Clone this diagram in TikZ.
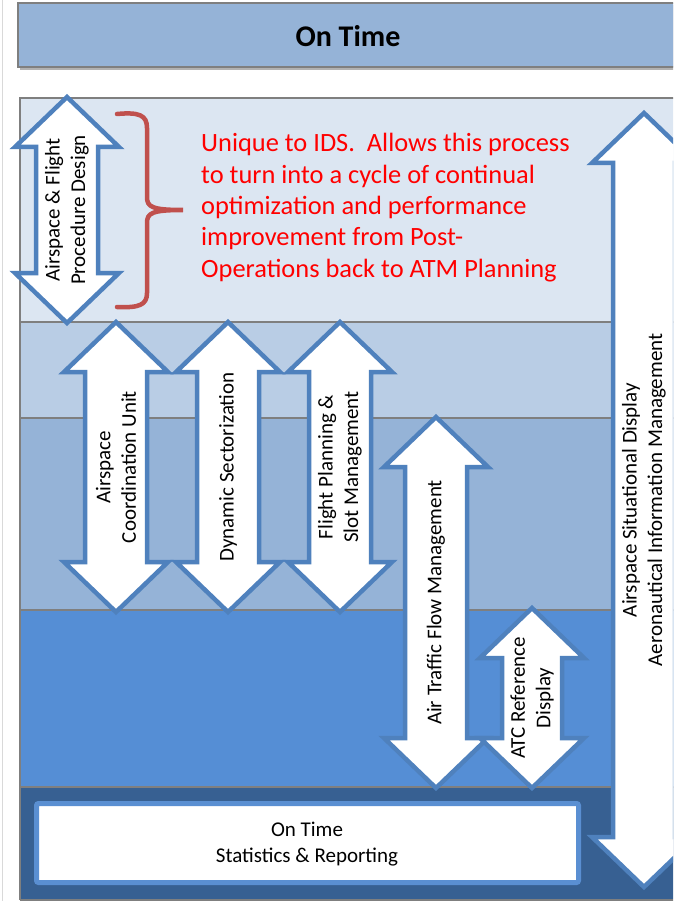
\documentclass[tikz,border=0pt]{standalone}
\usepackage{fontspec}
\setmainfont{Carlito}
\definecolor{hdrfill}{HTML}{95B3D7}
\definecolor{bandA}{HTML}{DCE6F2}
\definecolor{bandB}{HTML}{B9CDE5}
\definecolor{bandC}{HTML}{95B3D7}
\definecolor{bandD}{HTML}{558ED5}
\definecolor{bandE}{HTML}{376092}
\definecolor{edgegray}{HTML}{7F7F7F}
\definecolor{arrowblue}{HTML}{4F81BD}
\definecolor{boxblue}{HTML}{5A8FD2}
\definecolor{bracered}{HTML}{C0504D}
\definecolor{notered}{HTML}{FF0000}
\tikzset{
  bandsep/.style={draw=edgegray, line width=2pt},
  arrowshape/.style={draw=arrowblue, fill=white, line width=4.5pt, line join=miter},
  arrowtext/.style={rotate=90, align=center, inner sep=0pt, font=\fontsize{21}{25.5}\selectfont},
  notetext/.style={anchor=base west, inner sep=0pt, text=notered, font=\fontsize{26.4}{31}\selectfont},
}
\newcommand\dblarrow[6]{% name, cx, top, bottom, shaft half, text
  \draw[arrowshape] (#2,#3) -- ({#2+52},{#3+50}) -- ({#2+#5},{#3+50}) -- ({#2+#5},{#4-50})
    -- ({#2+52},{#4-50}) -- (#2,#4) -- ({#2-52},{#4-50}) -- ({#2-#5},{#4-50})
    -- ({#2-#5},{#3+50}) -- ({#2-52},{#3+50}) -- cycle;
  \node[arrowtext] (#1) at (#2,{(#3+#4)/2}) {#6};
}
\begin{document}
\begin{tikzpicture}[x=1pt,y=-1pt]
\useasboundingbox (0,0) rectangle (673,901);
\begin{scope}
\clip (0,0) rectangle (673,901);
\fill[white] (0,0) rectangle (673,901);
\draw[draw=black!15, line width=1pt] (2,0) -- (2,901);
% header
\fill[black, opacity=0.3] (20,5) rectangle (700,70);
\draw[draw=edgegray, fill=hdrfill, line width=1.5pt] (18,3) rectangle (700,67);
\node[font=\bfseries\fontsize{30}{36}\selectfont, inner sep=0pt] (title) at (348,36) {On Time};
% bands
\fill[bandA] (20,98) rectangle (700,322);
\fill[bandB] (20,322) rectangle (700,418);
\fill[bandC] (20,418) rectangle (700,610);
\fill[bandD] (20,610) rectangle (700,787);
\fill[bandE] (20,787) rectangle (700,899);
\draw[bandsep] (20,322) -- (700,322);
\draw[bandsep] (20,418) -- (700,418);
\draw[bandsep] (20,610) -- (700,610);
\draw[bandsep] (20,787) -- (700,787);
\draw[bandsep] (20,900) -- (20,98) -- (700,98);
\draw[bandsep] (20,900) -- (700,900);
% bottom box
\draw[draw=boxblue, fill=white, line width=5pt, rounded corners=2pt] (36.5,803.5) rectangle (578.5,882.5);
\node[align=center, inner sep=0pt, font=\fontsize{21}{26}\selectfont] (stats) at (307,844) {On Time\\Statistics \& Reporting};
% arrows
\dblarrow{apd}{67}{97}{323}{31}{Airspace \& Flight\\Procedure Design}
\dblarrow{acu}{116}{322}{612}{31}{Airspace\\Coordination Unit}
\dblarrow{dsec}{228}{322}{612}{31}{Dynamic Sectorization}
\dblarrow{fpsm}{340}{322}{612}{31}{Flight Planning \&\\Slot Management}
\dblarrow{atfm}{436}{417}{788}{31}{Air Traffic Flow Management}
\dblarrow{atcr}{532}{608}{788}{30}{ATC Reference\\Display}
\dblarrow{asd}{644}{113}{887}{31}{Airspace Situational Display\\Aeronautical Information Management}
% brace
\coordinate (braceTop) at (117,114);
\coordinate (braceTip) at (183,210);
\coordinate (braceBot) at (117,307);
\draw[draw=bracered, line width=4.5pt, line cap=round]
  (braceTop) .. controls (139,112) and (147,115) .. (147,128) -- (147,197)
  .. controls (147,207) and (152,210) .. (braceTip)
  .. controls (152,210) and (147,213) .. (147,223) -- (147,293)
  .. controls (147,305) and (139,308) .. (braceBot);
% note
\node[notetext] (n1) at (201,152) {Unique to IDS.\ \ Allows this process};
\node[notetext] (n2) at (201,183.25) {to turn into a cycle of continual};
\node[notetext] (n3) at (201,214.5) {optimization and performance};
\node[notetext] (n4) at (201,245.75) {improvement from Post-};
\node[notetext] (n5) at (201,277) {Operations back to ATM Planning};
\end{scope}
\end{tikzpicture}
\end{document}
